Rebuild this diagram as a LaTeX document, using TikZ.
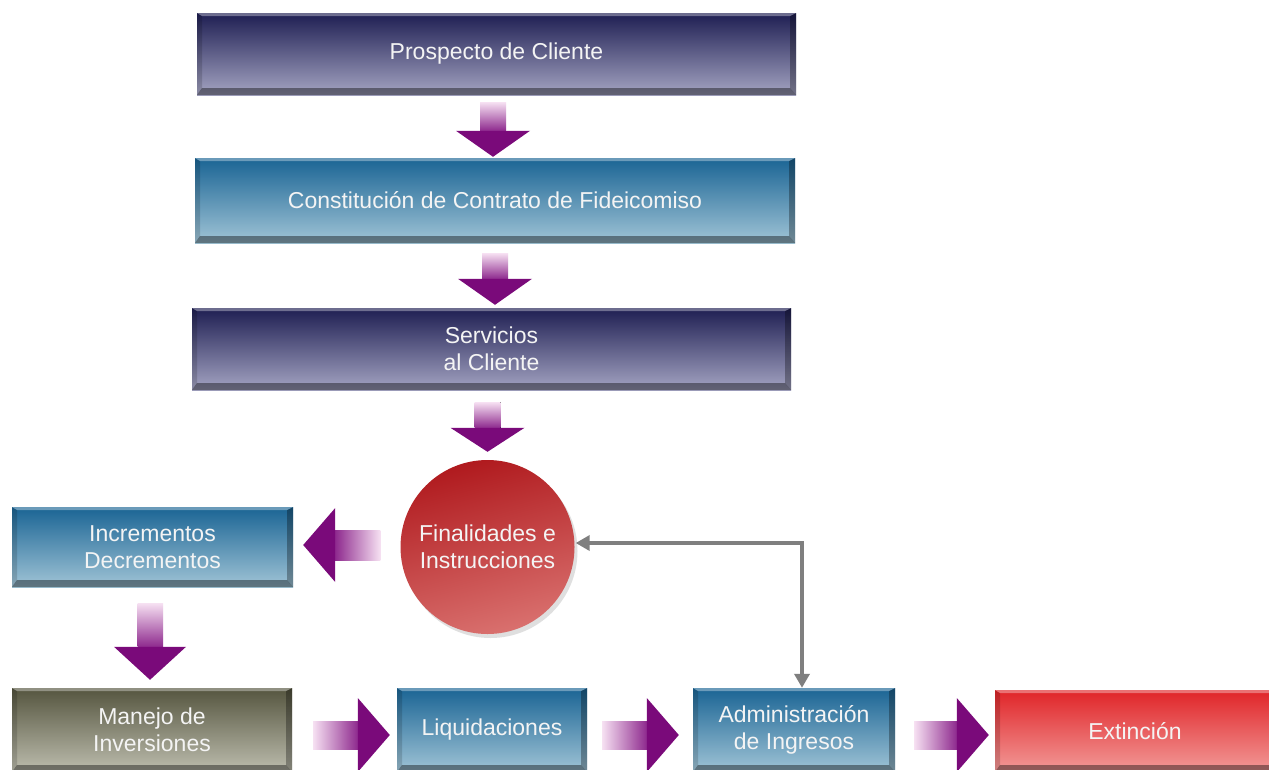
\documentclass[tikz,border=0pt]{standalone}
\usepackage{fontspec}
\setmainfont{Liberation Sans}
\usetikzlibrary{calc,shadows,arrows.meta}
\definecolor{navyT}{HTML}{1E1E52}
\definecolor{navyB}{HTML}{A4A4C2}
\definecolor{tealT}{HTML}{1A6494}
\definecolor{tealB}{HTML}{A0C4D6}
\definecolor{oliveT}{HTML}{55553F}
\definecolor{oliveB}{HTML}{BDBDAE}
\definecolor{redT}{HTML}{E02428}
\definecolor{redB}{HTML}{F29A98}
\definecolor{circT}{HTML}{B01A1E}
\definecolor{circB}{HTML}{D9706E}
\definecolor{purp}{HTML}{7A0A7A}
\definecolor{purpM}{HTML}{8E2A8E}
\definecolor{purpL}{HTML}{F6E0F2}
\definecolor{connc}{HTML}{7F7F7F}
\definecolor{txtc}{HTML}{F4F4F4}
\tikzset{
  bevel/.style={path picture={
    \fill[black,opacity=.4] (path picture bounding box.south west) -- (path picture bounding box.south east) -- ([shift={(-6pt,7pt)}]path picture bounding box.south east) -- ([shift={(5pt,7pt)}]path picture bounding box.south west) -- cycle;
    \fill[black,opacity=.3] (path picture bounding box.south east) -- (path picture bounding box.north east) -- ([shift={(-6pt,-3pt)}]path picture bounding box.north east) -- ([shift={(-6pt,7pt)}]path picture bounding box.south east) -- cycle;
    \fill[black,opacity=.15] (path picture bounding box.south west) -- (path picture bounding box.north west) -- ([shift={(5pt,-3pt)}]path picture bounding box.north west) -- ([shift={(5pt,7pt)}]path picture bounding box.south west) -- cycle;
    \fill[white,opacity=.35] (path picture bounding box.north west) -- (path picture bounding box.north east) -- ([shift={(-6pt,-3pt)}]path picture bounding box.north east) -- ([shift={(5pt,-3pt)}]path picture bounding box.north west) -- cycle;
  }},
  box/.style={rectangle, inner sep=0pt, text=txtc, align=center,
    font=\fontsize{23}{27}\selectfont, bevel},
  navybox/.style={box, top color=navyT, bottom color=navyB},
  tealbox/.style={box, top color=tealT, bottom color=tealB},
  olivebox/.style={box, top color=oliveT, bottom color=oliveB},
  redbox/.style={box, top color=redT, bottom color=redB},
  ball/.style={circle, inner sep=0pt, minimum size=174pt, text=txtc, align=center,
    font=\fontsize{23}{27}\selectfont, top color=circT, bottom color=circB, shading angle=15,
    drop shadow={opacity=0.25, shadow xshift=3pt, shadow yshift=-4pt}},
  backarrow/.style={draw=connc, line width=4pt,
    {Triangle[length=14pt,width=15pt]}-{Triangle[length=14pt,width=15pt]}}
}
% #1 tail, #2 tip, #3 half shaft, #4 half head, #5 head length
\newcommand\dnarr[5]{%
  \fill[top color=purpL, bottom color=purpM] ($(#1)+(-#3,0)$) rectangle ($(#2)+(#3,-#5)$);
  \fill[purp] ($(#2)+(-#4,-#5)$) -- ($(#2)+(#4,-#5)$) -- (#2) -- cycle;}
\newcommand\rtarr[5]{%
  \fill[left color=purpL, right color=purpM] ($(#1)+(0,-#3)$) rectangle ($(#2)+(-#5,#3)$);
  \fill[purp] ($(#2)+(-#5,-#4)$) -- ($(#2)+(-#5,#4)$) -- (#2) -- cycle;}
\newcommand\ltarr[5]{%
  \fill[left color=purpM, right color=purpL] ($(#1)+(0,-#3)$) rectangle ($(#2)+(#5,#3)$);
  \fill[purp] ($(#2)+(#5,-#4)$) -- ($(#2)+(#5,#4)$) -- (#2) -- cycle;}
\begin{document}
\begin{tikzpicture}[x=1pt,y=-1pt]
\clip (0,0) rectangle (1269,769);
\fill[white] (0,0) rectangle (1269,769);

\node[navybox, minimum width=599pt, minimum height=82pt] (pros) at (496.5,54) {Prospecto de Cliente};
\node[tealbox, minimum width=600pt, minimum height=85pt] (cons) at (495,200.5) {Constitución de Contrato de Fideicomiso};
\node[navybox, minimum width=599pt, minimum height=82pt] (serv) at (491.5,349) {Servicios\\al Cliente};
\node[ball] (fin) at (487.5,547) {Finalidades e\\Instrucciones};
\node[tealbox, minimum width=281pt, minimum height=80pt] (incr) at (152.5,547) {Incrementos\\Decrementos};
\node[olivebox, minimum width=280pt, minimum height=84pt] (man) at (152,730) {Manejo de\\Inversiones};
\node[tealbox, minimum width=190pt, minimum height=84pt] (liq) at (492,730) {Liquidaciones};
\node[tealbox, minimum width=202pt, minimum height=84pt] (adm) at (794,730) {Administración\\de Ingresos};
\node[redbox, minimum width=280pt, minimum height=82pt] (ext) at (1135,731) {Extinción};

% vertical block arrows
\coordinate (a1s) at ($(cons.north |- pros.south)+(-2,7)$);
\coordinate (a1e) at ($(cons.north)+(-2,-1)$);
\dnarr{a1s}{a1e}{13}{37}{26}
\coordinate (a2s) at ($(cons.south)+(0,10)$);
\coordinate (a2e) at ($(cons.south |- serv.north)+(0,-3)$);
\dnarr{a2s}{a2e}{13}{37}{26}
\coordinate (a3s) at ($(fin.north |- serv.south)+(0,12)$);
\coordinate (a3e) at ($(fin.north)+(0,-8)$);
\dnarr{a3s}{a3e}{13}{37}{24}
\coordinate (a4s) at ($(incr.south)+(-2,16)$);
\coordinate (a4e) at ($(man.north)+(-2,-8)$);
\dnarr{a4s}{a4e}{13}{36}{33}

% left block arrow
\coordinate (a5s) at ($(fin.west)+(-20,-2)$);
\coordinate (a5e) at ($(incr.east |- a5s)+(10,0)$);
\ltarr{a5s}{a5e}{15}{37}{32}

% right block arrows
\coordinate (a6s) at ($(man.east)+(21,5)$);
\coordinate (a6e) at ($(liq.west)+(-7,5)$);
\rtarr{a6s}{a6e}{14}{37}{32}
\coordinate (a7s) at ($(liq.east)+(15,5)$);
\coordinate (a7e) at ($(adm.west)+(-14,5)$);
\rtarr{a7s}{a7e}{14}{37}{32}
\coordinate (a8s) at ($(adm.east)+(19,5)$);
\coordinate (a8e) at ($(ext.west)+(-6,4)$);
\rtarr{a8s}{a8e}{14}{37}{32}

% feedback connector
\coordinate (admtop) at ($(adm.north)+(8,0)$);
\draw[backarrow] ($(fin.east)+(1,-4)$) -| (admtop);
\end{tikzpicture}
\end{document}
